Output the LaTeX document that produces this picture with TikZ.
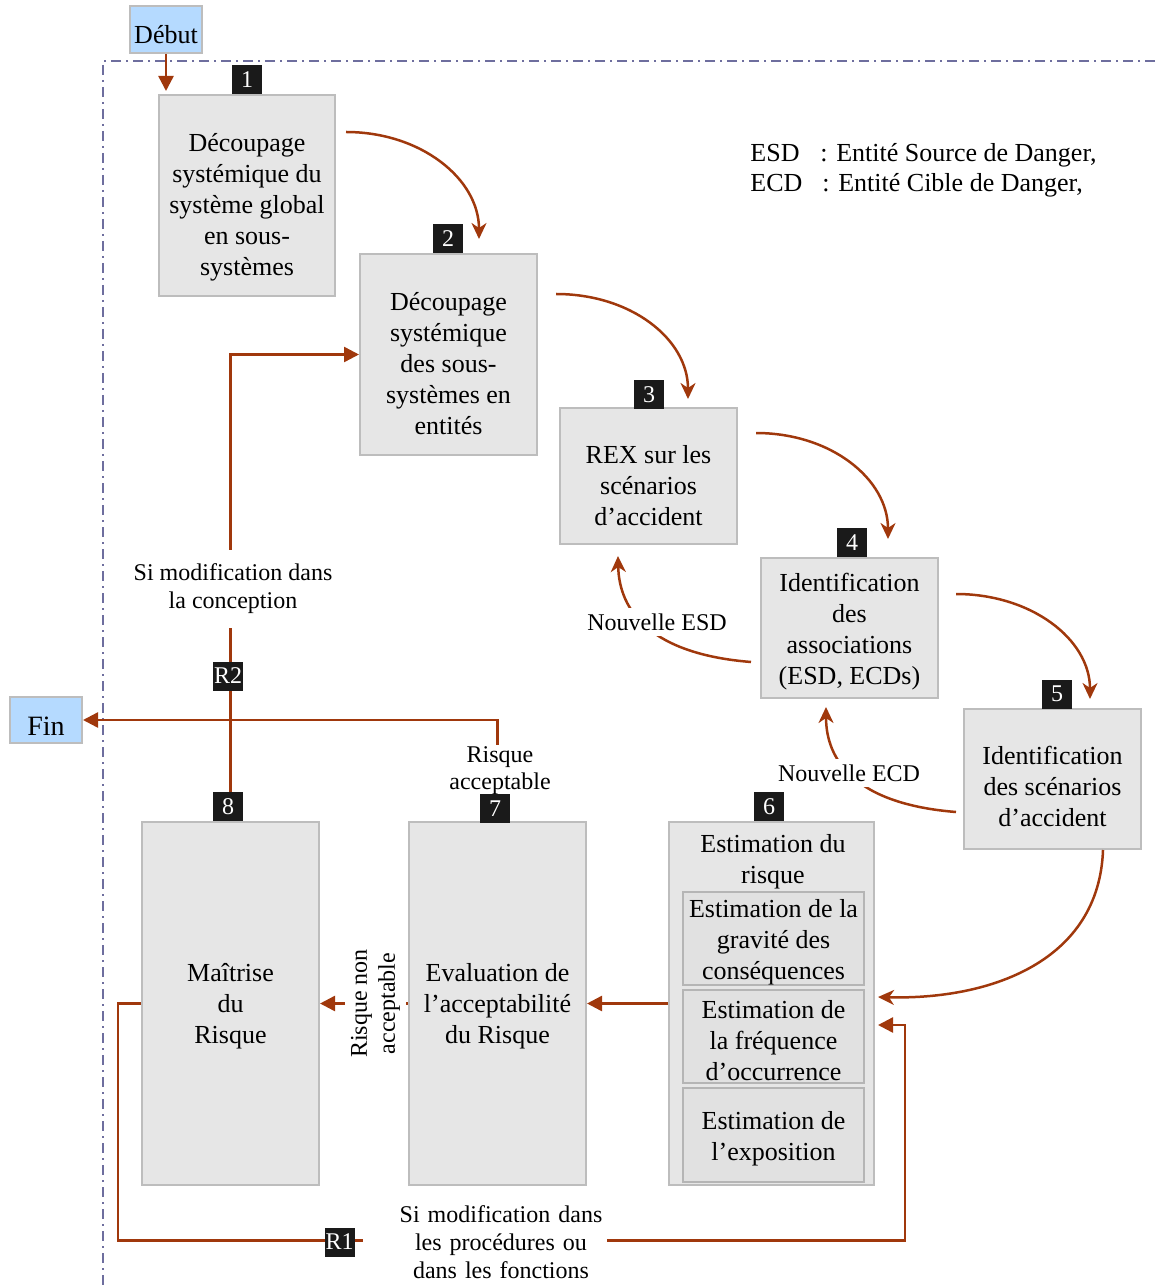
\documentclass[tikz,border=0pt]{standalone}
\usepackage{fontspec}
\setmainfont{Liberation Serif}
\usetikzlibrary{arrows.meta,calc}
\definecolor{arr}{HTML}{A0380C}
\definecolor{boxfill}{HTML}{E6E6E6}
\definecolor{boxline}{HTML}{BDBDBD}
\definecolor{subfill}{HTML}{E1E1E1}
\definecolor{subline}{HTML}{B5B5B5}
\definecolor{bluefill}{HTML}{B5DAFF}
\definecolor{numfill}{HTML}{1A1A1A}
\definecolor{framec}{HTML}{6E6E9E}
\tikzset{
 box/.style={draw=boxline,fill=boxfill,line width=1pt,inner sep=0pt},
 sub/.style={draw=subline,fill=subfill,line width=1pt,inner sep=0pt,minimum width=90.5pt},
 txt/.style={align=center,font=\fontsize{13}{15.5}\selectfont,inner sep=0pt},
 lbl/.style={align=center,font=\fontsize{12}{14}\selectfont,fill=white},
 num/.style={fill=numfill,text=white,font=\fontsize{12}{14}\selectfont,minimum width=15pt,minimum height=14.5pt,inner sep=0pt},
 startend/.style={fill=bluefill,draw=boxline,line width=1pt,inner sep=0pt,text depth=0pt},
 flow/.style={draw=arr,line width=1.25pt,-{Triangle[length=7.5pt,width=7.5pt]}},
 curv/.style={draw=arr,line width=1.25pt,-{Stealth[length=8pt,width=7.5pt,inset=2.5pt]}},
 frame/.style={draw=framec,line width=0.8pt,dash pattern=on 5pt off 2.5pt on 1pt off 2.5pt},
}
\begin{document}
\begin{tikzpicture}[x=0.5pt,y=-0.5pt]
\path[use as bounding box] (0,0) rectangle (1155,1288);
% frame
\draw[frame] (1155,61) -- (103,61) -- (103,1288);
% start / end
\node[startend,minimum width=36pt,minimum height=23.5pt,text height=14.5pt,font=\fontsize{13}{15.5}\selectfont] (dbt) at (166,29.5) {Début};
\node[startend,minimum width=36pt,minimum height=23pt,text height=15.5pt,font=\fontsize{14}{16}\selectfont] (fin) at (46,720) {Fin};
% boxes
\node[box,minimum width=88pt,minimum height=100.5pt] (b1) at (247,195.5) {};
\node[txt] (t1) at (247,207) {Découpage\\systémique du\\système global\\en sous-\\systèmes};
\node[box,minimum width=88.5pt,minimum height=100.5pt] (b2) at (448.5,354.5) {};
\node[txt] (t2) at (448.5,363.5) {Découpage\\systémique\\des sous-\\systèmes en\\entités};
\node[box,minimum width=88.5pt,minimum height=68pt] (b3) at (648.5,476) {};
\node[txt] (t3) at (648.5,485.5) {REX sur les\\scénarios\\d’accident};
\node[box,minimum width=88.5pt,minimum height=70pt] (b4) at (849.5,628) {};
\node[txt] (t4) at (849.5,632) {Identification\\des\\associations\\(ESD, ECDs)};
\node[box,minimum width=88.5pt,minimum height=70pt] (b5) at (1052.5,779) {};
\node[txt] (t5) at (1052.5,786) {Identification\\des scénarios\\d’accident};
\node[box,minimum width=102.5pt,minimum height=181.5pt] (b6) at (771.5,1003.5) {};
\node[txt] (t6) at (773,862) {Estimation du\\risque};
\node[sub,minimum height=46.5pt] (s1) at (773.5,938.5) {};
\node[txt] (st1) at (773.5,942.5) {Estimation de la\\gravité des\\conséquences};
\node[sub,minimum height=46.5pt] (s2) at (773.5,1036.5) {};
\node[txt] (st2) at (773.5,1040.5) {Estimation de\\la fréquence\\d’occurrence};
\node[sub,minimum height=47pt] (s3) at (773.5,1135) {};
\node[txt] (st3) at (773.5,1139) {Estimation de\\l’exposition};
\node[box,minimum width=88.5pt,minimum height=181.5pt] (b7) at (497.5,1003.5) {};
\node[txt] (t7) at (497.5,1006.5) {Evaluation de\\l’acceptabilité\\du Risque};
\node[box,minimum width=88.5pt,minimum height=181.5pt] (b8) at (230.5,1003.5) {};
\node[txt] (t8) at (230.5,1006.5) {Maîtrise\\du\\Risque};
% legend
\node[anchor=west,inner sep=0pt,font=\fontsize{13}{15.5}\selectfont] (leg1) at (750,155) {\makebox[35pt][l]{ESD}: Entité Source de Danger,};
\node[anchor=west,inner sep=0pt,font=\fontsize{13}{15.5}\selectfont] (leg2) at (750,185) {\makebox[36pt][l]{ECD}: Entité Cible de Danger,};
% main flow
\draw[flow,shorten >=1.5pt] (dbt.south) -- (dbt.south |- b1.north);
\draw[curv] ($(b1.north east)+(10,38)$) .. controls +(75,0) and +(0,-60) .. ($(b2.north east)+(-59,-14)$);
\draw[curv] ($(b2.north east)+(18,41)$) .. controls +(75,0) and +(0,-60) .. ($(b3.north east)+(-50,-8)$);
\draw[curv] ($(b3.north east)+(18,26)$) .. controls +(75,0) and +(0,-60) .. ($(b4.north east)+(-51,-18)$);
\draw[curv] ($(b4.north east)+(17,37)$) .. controls +(75,0) and +(0,-60) .. ($(b5.north east)+(-52,-9)$);
\draw[curv] ($(b5.south west)+(140,0)$) .. controls +(-4,111) and +(113,3) .. ($(b6.east)+(3,-6.5)$);
% feedback ESD / ECD
\draw[curv] ($(b4.west)+(-9,34)$) .. controls +(-100,-8) and +(1,55) .. ($(b3.south west)+(59,11)$);
\node[lbl,inner xsep=3pt,inner ysep=3pt] (nesd) at (657,622) {Nouvelle ESD};
\draw[curv] ($(b5.west)+(-7,33)$) .. controls +(-100,-8) and +(0,54) .. ($(b4.south)+(-23.5,8)$);
\node[lbl,inner xsep=3pt,inner ysep=3pt] (necd) at (849,773) {Nouvelle ECD};
% estimation -> evaluation -> maitrise
\draw[flow] (b6.west) -- (b7.east);
\draw[flow] (b7.west) -- node[pos=0.37,lbl,rotate=90,inner sep=3pt,font=\fontsize{12}{14}\selectfont] (rna) {Risque non\\acceptable} (b8.east);
% acceptable -> fin
\draw[flow] (b7.north) -- (b7.north |- fin.east) -- (fin.east);
\node[lbl,inner xsep=2pt,inner ysep=1pt,font=\fontsize{12}{13.5}\selectfont] (racc) at (500,771) {Risque\\acceptable};
% R2 loop
\draw[flow] (b8.north) -- (b8.north |- b2.west) -- (b2.west);
\node[lbl,inner xsep=2pt,inner ysep=7pt] (r2t) at (233,589) {Si modification dans\\la conception};
% R1 loop
\draw[flow] (b8.west) -- ++(-23,0) -- ++(0,237) -| ($(b6.east)+(30,21.5)$) -- ($(b6.east)+(3,21.5)$);
\node[lbl,inner xsep=0pt,inner ysep=1pt,text width=122pt] (r1t) at (485,1242) {\hspace*{16pt}Si modification dans\\\hspace*{16pt}les procédures ou\\\hspace*{16pt}dans les fonctions};
% number tags
\node[num] (n1) at (247,79.5) {1};
\node[num] (n2) at (448,238.5) {2};
\node[num] (n3) at (649,395) {3};
\node[num] (n4) at (852,542.5) {4};
\node[num] (n5) at (1057,694) {5};
\node[num] (n6) at (769,806.5) {6};
\node[num] (n7) at (495,808.5) {7};
\node[num] (n8) at (228,806.5) {8};
\node[num] (nr2) at (228,676) {R2};
\node[num] (nr1) at (339.5,1242) {R1};
\end{tikzpicture}
\end{document}
